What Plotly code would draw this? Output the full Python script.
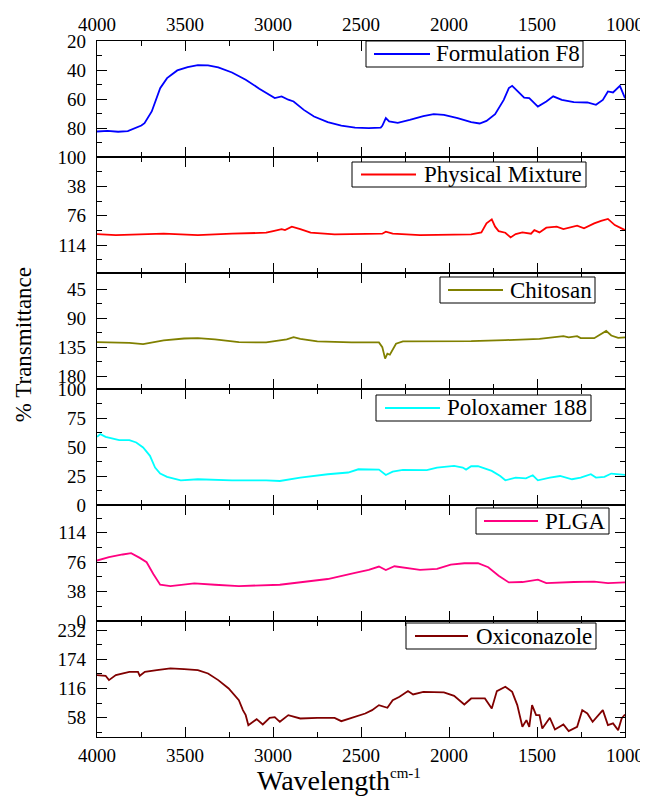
import plotly.graph_objects as go

# ---------------- data ----------------
f8_wn = [4000, 3940, 3880, 3825, 3748, 3730, 3689, 3641, 3602, 3544, 3485, 3427, 3369, 3311,
         3233, 3155, 3078, 2990, 2951, 2913, 2883, 2825, 2767, 2689, 2612, 2534, 2456, 2388,
         2379, 2359, 2340, 2291, 2223, 2146, 2087, 2029, 1951, 1874, 1826, 1787, 1738, 1689,
         1660, 1641, 1612, 1573, 1544, 1495, 1447, 1408, 1359, 1291, 1214, 1165, 1126, 1097,
         1068, 1029, 1000]
f8_val = [82.4, 82.0, 82.6, 82.2, 78.3, 76.7, 68.6, 52.5, 45.6, 40.3, 38.0, 36.6, 36.8, 38.2,
          41.7, 46.7, 52.9, 59.4, 58.2, 60.5, 61.7, 67.5, 72.1, 76.0, 78.3, 79.7, 80.1, 79.7,
          78.5, 73.2, 75.5, 76.5, 74.4, 71.8, 70.5, 70.9, 73.2, 76.0, 76.9, 75.1, 70.5, 60.6,
          52.5, 50.9, 54.4, 59.0, 59.4, 65.2, 61.7, 58.2, 60.6, 62.2, 62.4, 64.0, 60.6, 54.8,
          55.5, 50.9, 59.4]

pm_wn = [4000, 3893, 3621, 3427, 3233, 3039, 2999, 2951, 2932, 2893, 2845, 2786, 2650, 2456,
         2379, 2359, 2320, 2165, 1874, 1816, 1787, 1757, 1738, 1718, 1680, 1650, 1621, 1583,
         1534, 1515, 1486, 1447, 1388, 1350, 1272, 1233, 1175, 1136, 1097, 1058, 1000]
pm_val = [99.7, 101.0, 99.2, 101.0, 99.2, 97.9, 95.8, 93.2, 94.5, 90.1, 93.2, 97.9, 100.1, 100.1,
          99.2, 96.6, 99.2, 101.0, 100.1, 97.5, 85.8, 80.6, 90.1, 95.8, 97.9, 104.0, 99.7, 97.5,
          99.2, 94.5, 97.5, 91.4, 90.1, 93.2, 88.8, 92.3, 85.8, 82.7, 80.1, 88.0, 94.5]

ch_wn = [4000, 3816, 3738, 3621, 3505, 3427, 3330, 3194, 3039, 2922, 2883, 2845, 2748, 2553,
         2398, 2379, 2363, 2350, 2336, 2301, 2262, 2068, 1874, 1680, 1583, 1486, 1350, 1320,
         1272, 1252, 1175, 1136, 1107, 1078, 1039, 1000]
ch_val = [127.2, 128.3, 130.3, 124.7, 121.6, 121.1, 123.1, 127.2, 127.8, 123.1, 119.5, 122.1,
          126.2, 127.8, 127.8, 135.0, 152.9, 145.2, 146.8, 129.8, 126.2, 126.2, 125.7, 124.2,
          123.1, 122.1, 118.0, 120.0, 118.0, 121.1, 121.1, 114.4, 109.8, 117.0, 120.6, 120.0]

px_wn = [4000, 3981, 3951, 3913, 3874, 3816, 3777, 3738, 3699, 3670, 3641, 3602, 3524, 3427,
         3233, 3039, 2961, 2845, 2689, 2573, 2515, 2398, 2359, 2320, 2262, 2126, 2068, 1971,
         1922, 1903, 1874, 1835, 1757, 1709, 1680, 1621, 1563, 1524, 1495, 1427, 1369, 1301,
         1252, 1194, 1165, 1117, 1078, 1000]
px_val = [58.8, 61.1, 58.8, 57.6, 55.9, 55.9, 53.9, 49.6, 42.4, 32.3, 27.1, 24.2, 21.3, 22.2,
          21.3, 21.3, 20.7, 23.6, 26.5, 28.0, 30.8, 30.5, 25.9, 28.8, 30.3, 30.0, 32.3, 33.7,
          32.3, 30.5, 33.4, 33.4, 29.4, 25.0, 21.3, 23.6, 23.0, 25.6, 21.3, 23.6, 25.0, 22.2,
          23.6, 26.5, 23.6, 24.2, 27.1, 26.0]

pl_wn = [4000, 3932, 3854, 3806, 3757, 3718, 3680, 3641, 3583, 3447, 3330, 3194, 2961, 2845,
         2689, 2534, 2456, 2398, 2359, 2310, 2262, 2165, 2068, 1990, 1913, 1835, 1777, 1718,
         1660, 1583, 1495, 1447, 1291, 1175, 1097, 1000]
pl_val = [78.2, 82.5, 86.0, 87.7, 81.6, 76.0, 60.8, 46.9, 45.2, 48.6, 46.9, 45.2, 46.9, 49.9,
          54.3, 62.1, 66.0, 70.4, 66.0, 70.8, 69.5, 66.0, 67.3, 73.0, 74.7, 74.7, 69.5, 58.6,
          49.9, 50.4, 53.4, 49.1, 50.4, 50.8, 49.1, 49.9]

ox_wn = [4000, 3951, 3932, 3893, 3816, 3767, 3757, 3728, 3660, 3583, 3505, 3427, 3369, 3311,
         3252, 3194, 3171, 3155, 3140, 3116, 3093, 3058, 3019, 2990, 2961, 2913, 2845, 2748,
         2650, 2612, 2534, 2476, 2437, 2398, 2350, 2320, 2281, 2233, 2204, 2146, 2029, 1971,
         1913, 1874, 1796, 1757, 1728, 1680, 1641, 1612, 1583, 1560, 1544, 1528, 1505, 1486,
         1470, 1427, 1398, 1350, 1320, 1272, 1243, 1214, 1184, 1126, 1097, 1068, 1039, 1019,
         1000]
ox_val = [142.7, 141.4, 132.8, 142.7, 149.3, 149.3, 141.4, 149.3, 152.6, 156.0, 154.6, 152.6,
          146.0, 132.8, 116.3, 93.1, 73.3, 63.3, 43.5, 48.8, 55.4, 44.8, 58.0, 59.4, 50.1,
          63.3, 56.7, 58.0, 58.0, 51.4, 60.0, 66.6, 73.3, 83.2, 77.9, 93.1, 99.7, 111.0, 104.4,
          109.6, 108.3, 101.7, 84.5, 96.4, 96.4, 76.6, 111.0, 119.6, 109.6, 83.2, 40.2, 53.4,
          40.2, 83.2, 63.3, 63.3, 36.9, 58.0, 34.9, 44.8, 31.6, 40.2, 73.3, 66.6, 50.1, 73.3,
          43.5, 46.9, 33.6, 56.7, 64.7]

series_names = ["Formulation F8", "Physical Mixture", "Chitosan",
                "Poloxamer 188", "PLGA", "Oxiconazole"]
series_x = [f8_wn, pm_wn, ch_wn, px_wn, pl_wn, ox_wn]
series_y = [f8_val, pm_val, ch_val, px_val, pl_val, ox_val]

x_ticks = [4000, 3500, 3000, 2500, 2000, 1500, 1000]
x_minor = [3750, 3250, 2750, 2250, 1750, 1250]

y_ranges = [[100, 20], [150, 0], [200, 20], [0, 100], [0, 150], [20, 250]]
y_ticks = [[20, 40, 60, 80, 100], [38, 76, 114], [45, 90, 135, 180],
           [0, 25, 50, 75, 100], [0, 38, 76, 114], [58, 116, 174, 232]]
y_minor = [[30, 50, 70, 90], [19, 57, 95, 133], [67.5, 112.5, 157.5],
           [12.5, 37.5, 62.5, 87.5], [19, 57, 95, 133], [29, 87, 145, 203]]

# ---------------- styles ----------------
colors = ["#0000FF", "#FF0000", "#808000", "#00FFFF", "#FF0080", "#800000"]
# legend boxes in plot-area pixels (origin = plot's top-left, 528 x 696 px)
# (box left, box right, box top, box bottom, sample x0, sample x1, text x)
legend_px = [
    (269, 486, 0, 26, 277, 333, 337),
    (255, 489, 121, 146, 264, 319, 325),
    (343, 498, 236, 262, 351, 406, 411),
    (279, 494, 354, 380, 288, 343, 348),
    (379, 512, 467, 493, 387, 441, 446),
    (309, 499, 582, 608, 318, 371, 377),
]
PW, PH = 528.0, 696.0
FONT = "Liberation Serif, Times New Roman, serif"
TICKFONT = dict(family=FONT, size=19, color="black")


def px_x(v):
    return v / PW


def px_y(v):
    return 1 - v / PH


fig = go.Figure()
layout = dict(
    width=640, height=791,
    margin=dict(l=89, r=23, t=33, b=62, autoexpand=False),
    paper_bgcolor="white", plot_bgcolor="white",
    font=dict(family=FONT, color="black"),
    showlegend=False,
)

shapes = []
annotations = []
n = 6
for i in range(n):
    k = "" if i == 0 else str(i + 1)
    fig.add_trace(go.Scatter(
        x=series_x[i], y=series_y[i], mode="lines", name=series_names[i],
        line=dict(color=colors[i], width=1.8),
        xaxis="x" + k, yaxis="y" + k,
    ))
    top = 1 - i / n
    bot = 1 - (i + 1) / n
    layout["xaxis" + k] = dict(
        domain=[0, 1], anchor="y" + k, range=[4000, 1000], automargin=False,
        tickvals=x_ticks, ticks="inside", ticklen=10, tickwidth=1.3,
        tickcolor="black", showline=True, linewidth=1.2, linecolor="black",
        mirror="allticks", showgrid=False, zeroline=False,
        minor=dict(tickvals=x_minor, ticks="inside", ticklen=5, tickwidth=1.3,
                   tickcolor="black", showgrid=False),
        showticklabels=(i == 0 or i == n - 1),
        side="top" if i == 0 else "bottom",
        tickfont=TICKFONT, ticklabelstandoff=1,
    )
    layout["yaxis" + k] = dict(
        domain=[bot, top], anchor="x" + k, range=y_ranges[i], automargin=False,
        tickvals=y_ticks[i], ticks="inside", ticklen=10, tickwidth=1.3,
        tickcolor="black", showline=True, linewidth=1.2, linecolor="black",
        mirror="allticks", showgrid=False, zeroline=False,
        minor=dict(tickvals=y_minor[i], ticks="inside", ticklen=5, tickwidth=1.3,
                   tickcolor="black", showgrid=False),
        tickfont=TICKFONT, ticklabelstandoff=6,
    )
    bl, br, bt, bb, s0, s1, tx = legend_px[i]
    mid = (bt + bb) / 2
    shapes.append(dict(type="rect", xref="paper", yref="paper",
                       x0=px_x(bl), x1=px_x(br), y0=px_y(bb), y1=px_y(bt),
                       line=dict(color="black", width=1), fillcolor="white", layer="above"))
    shapes.append(dict(type="line", xref="paper", yref="paper",
                       x0=px_x(s0), x1=px_x(s1), y0=px_y(mid), y1=px_y(mid),
                       line=dict(color=colors[i], width=1.8), layer="above"))
    annotations.append(dict(text=series_names[i], xref="paper", yref="paper",
                            x=px_x(tx), y=px_y(mid), xanchor="left", yanchor="middle",
                            showarrow=False,
                            font=dict(family=FONT, size=23, color="black")))

annotations += [
    dict(text="% Transmittance", xref="paper", yref="paper", x=-0.140, y=0.563,
         textangle=-90, showarrow=False, xanchor="center", yanchor="middle",
         font=dict(family=FONT, size=23, color="black")),
    dict(text='Wavelength<sup><span style="font-size:15px">cm-1</span></sup>',
         xref="paper", yref="paper", x=0.459, y=-0.0374, showarrow=False,
         xanchor="center", yanchor="top",
         font=dict(family=FONT, size=28, color="black")),
]
layout["shapes"] = shapes
layout["annotations"] = annotations

fig.update_layout(**layout)
fig.write_html("out.html")
